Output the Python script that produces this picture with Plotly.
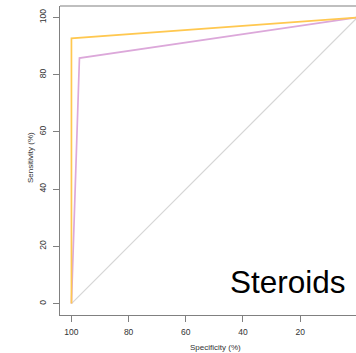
import plotly.graph_objects as go

# ROC data (specificity %, sensitivity %)
spec_yellow = [100, 100, 0]
sens_yellow = [0, 92.7, 100]
spec_pink = [100, 97.2, 0]
sens_pink = [0, 85.8, 100]
spec_diag = [100, 0]
sens_diag = [0, 100]

x_ticks = [100, 80, 60, 40, 20, 0]
y_ticks = [0, 20, 40, 60, 80, 100]

W, H = 356, 353
L, T, B, R = 60, 6, 38, 0
pw, ph = W - L - R, H - T - B

def px(x):
    return (x - L) / pw

def py(y):
    return (H - B - y) / ph

fig = go.Figure()
fig.add_trace(go.Scatter(x=spec_diag, y=sens_diag, mode="lines",
                         line=dict(color="#d6d6d6", width=1.2), hoverinfo="skip"))
fig.add_trace(go.Scatter(x=spec_pink, y=sens_pink, mode="lines",
                         line=dict(color="#dca8da", width=1.7), hoverinfo="skip"))
fig.add_trace(go.Scatter(x=spec_yellow, y=sens_yellow, mode="lines",
                         line=dict(color="#ffc850", width=1.7), hoverinfo="skip"))

axis_font = dict(family="Liberation Sans, Arial, sans-serif", size=8.5, color="#333333")
fig.update_layout(
    width=W, height=H,
    margin=dict(l=L, r=R, t=T, b=B, pad=0),
    paper_bgcolor="white", plot_bgcolor="white",
    showlegend=False,
    font=dict(family="Liberation Sans, Arial, sans-serif"),
    xaxis=dict(range=[104, 104 - pw / 2.859], tickvals=x_ticks, ticktext=[str(v) for v in x_ticks],
               showgrid=False, zeroline=False, showline=True, linecolor="#808080", linewidth=1.2,
               mirror=False, ticks="outside", ticklen=6, tickcolor="#808080", tickwidth=1,
               tickfont=axis_font, ticklabelstandoff=3),
    yaxis=dict(range=[-4, 104], tickvals=y_ticks, ticktext=[str(v) for v in y_ticks],
               showgrid=False, zeroline=False, showline=True, linecolor="#808080", linewidth=1.2,
               mirror=False, ticks="outside", ticklen=6, tickcolor="#808080", tickwidth=1,
               tickangle=-90, tickfont=axis_font, ticklabelstandoff=4),
    shapes=[dict(type="line", xref="paper", yref="paper", x0=0, x1=1, y0=1, y1=1,
                 line=dict(color="#808080", width=1.2))],
    annotations=[
        dict(text="Specificity (%)", xref="paper", yref="paper", x=px(215), y=py(347),
             showarrow=False, xanchor="center", yanchor="middle",
             font=dict(size=8, color="#333333")),
        dict(text="Sensitivity (%)", xref="paper", yref="paper", x=px(30), y=py(158),
             showarrow=False, xanchor="center", yanchor="middle", textangle=-90,
             font=dict(size=8, color="#333333")),
        dict(text="Steroids", xref="paper", yref="paper", x=px(228), y=py(282),
             showarrow=False, xanchor="left", yanchor="middle",
             font=dict(size=31.5, color="#000000")),
    ],
)

fig.write_html("out.html")
